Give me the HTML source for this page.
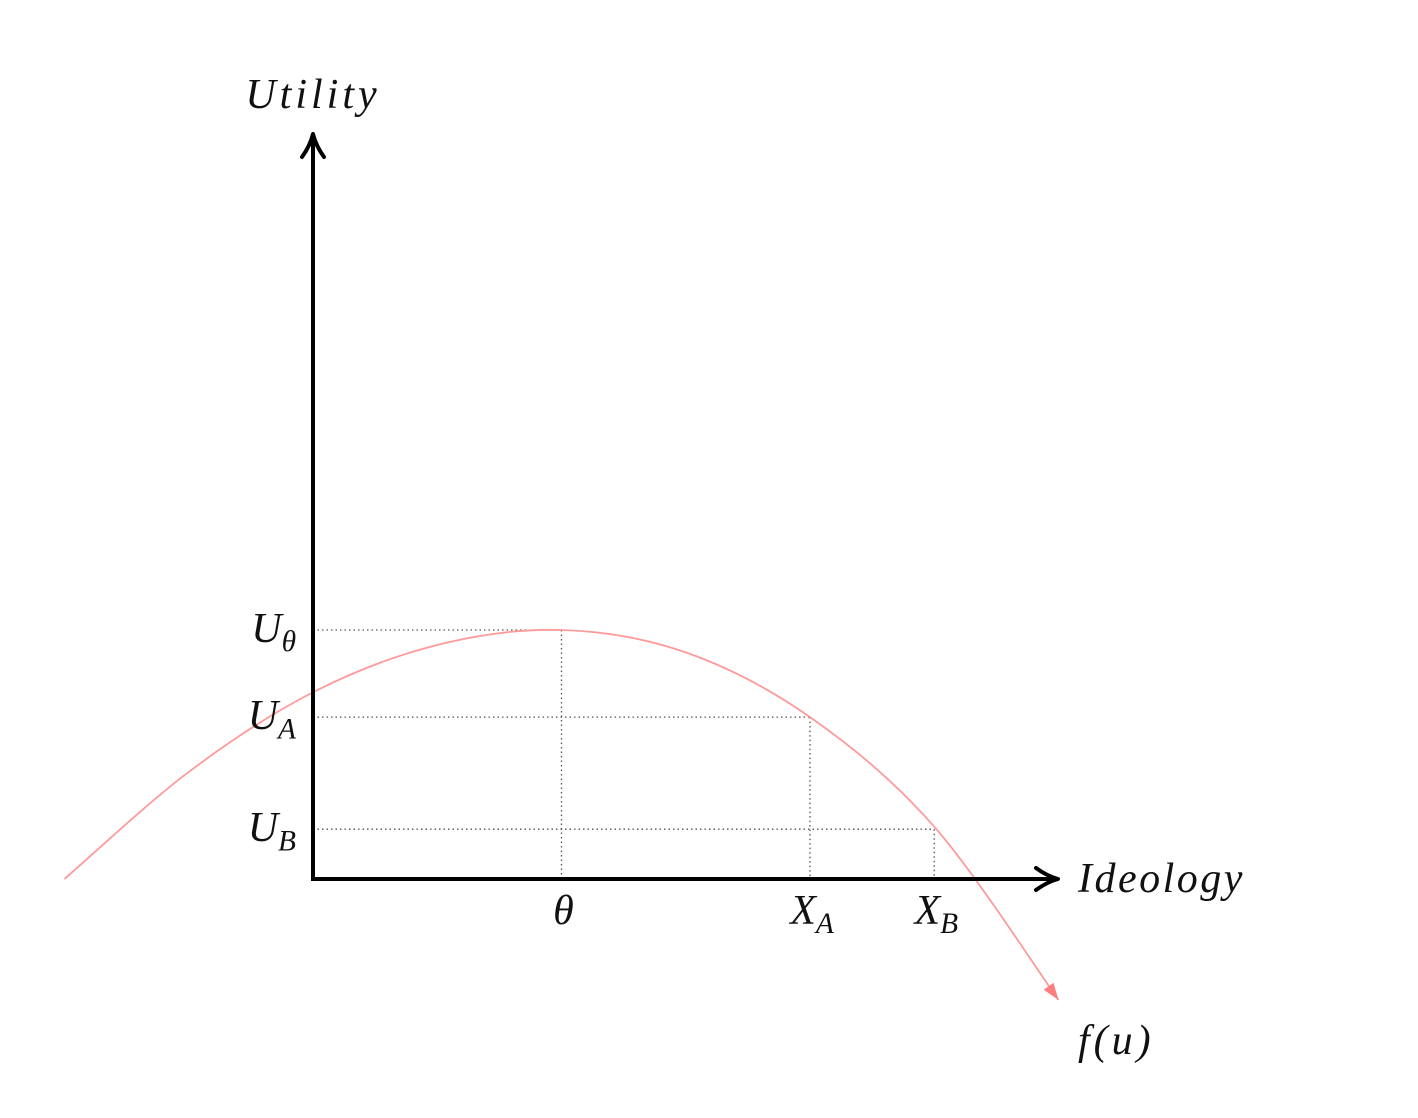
<!DOCTYPE html>
<html><head><meta charset="utf-8"><style>
html,body{margin:0;padding:0;background:#fff;}
svg{display:block;}
text{font-family:"Liberation Serif",serif;font-style:italic;fill:#111;}
</style></head><body>
<svg id="chart" width="1418" height="1118" viewBox="0 0 1418 1118" xmlns="http://www.w3.org/2000/svg">
<g id="layer"></g>
</svg>
<script>
// data
const tickNames = ["theta", "x-a", "x-b"];
const tickValues = [1, 2, 2.5];
const utilNames = ["u-theta", "u-a", "u-b"];
const utilValues = [1, 0.65, 0.2];
const curveX = [-1, -0.5, 0, 0.5, 1, 1.5, 2, 2.5, 3];
const curveU = [0, 0.43, 0.75, 0.94, 1, 0.91, 0.65, 0.21, -0.486];

const X0 = 313, Y0 = 879, SX = 248.5, SY = 249;
const xs = v => X0 + v * SX;
const ys = u => Y0 - u * SY;
const NS = "http://www.w3.org/2000/svg";
const g = document.getElementById('layer');
function mk(tag, attrs) {
  const e = document.createElementNS(NS, tag);
  for (const k in attrs) e.setAttribute(k, attrs[k]);
  g.appendChild(e);
  return e;
}
// guide lines
utilValues.forEach((u, i) => {
  const xe = xs(tickValues[i]);
  const l = mk('line', {x1: X0, y1: ys(u), x2: xe, y2: ys(u), stroke: '#555', 'stroke-width': 1.3, 'stroke-dasharray': '1.5 3'});
  
  
  const v = mk('line', {x1: xe, y1: ys(u), x2: xe, y2: Y0, stroke: '#555', 'stroke-width': 1.3, 'stroke-dasharray': '1.5 3'});
  
  
});
// curve (Catmull-Rom)
const pts = curveX.map((x, i) => [xs(x), ys(curveU[i])]);
let d = 'M' + pts[0][0] + ',' + pts[0][1];
for (let i = 0; i < pts.length - 1; i++) {
  const p0 = pts[i - 1] || pts[i], p1 = pts[i], p2 = pts[i + 1], p3 = pts[i + 2] || p2;
  const c1 = [p1[0] + (p2[0] - p0[0]) / 6, p1[1] + (p2[1] - p0[1]) / 6];
  const c2 = [p2[0] - (p3[0] - p1[0]) / 6, p2[1] - (p3[1] - p1[1]) / 6];
  d += ` C${c1[0]},${c1[1]} ${c2[0]},${c2[1]} ${p2[0]},${p2[1]}`;
}
const curve = mk('path', {d: d, fill: 'none', stroke: '#ff9a9a', 'stroke-width': 1.8});


// curve arrowhead
const pe = pts[pts.length - 1], pp = pts[pts.length - 2];
const ang = Math.atan2(pe[1] - pp[1], pe[0] - pp[0]);
const ah = mk('path', {d: 'M0,0 L-17,-6 L-17,6 Z', fill: '#ff7f7f', transform: `translate(${pe[0]},${pe[1]}) rotate(${ang * 180 / Math.PI})`});


// axes
const ya = mk('line', {x1: X0, y1: Y0 + 2, x2: X0, y2: 140, stroke: '#000', 'stroke-width': 4});


const yah = mk('path', {d: `M${X0-11},${157} Q${X0-3},${146} ${X0},${134} Q${X0+3},${146} ${X0+11},${157}`, fill: 'none', stroke: '#000', 'stroke-width': 4, 'stroke-linecap': 'round', 'stroke-linejoin': 'round'});


const xa = mk('line', {x1: X0 - 2, y1: Y0, x2: 1052, y2: Y0, stroke: '#000', 'stroke-width': 4});


const xah = mk('path', {d: `M1036,${Y0-11} Q1047,${Y0-3} 1058,${Y0} Q1047,${Y0+3} 1036,${Y0+11}`, fill: 'none', stroke: '#000', 'stroke-width': 4, 'stroke-linecap': 'round', 'stroke-linejoin': 'round'});


function label(txt, sub, x, y, size, anchor, name, ls) {
  const t = mk('text', {x: x, y: y, 'font-size': size, 'text-anchor': anchor});
  if (ls) t.setAttribute('letter-spacing', ls);
  t.textContent = txt;
  if (sub) {
    const s = document.createElementNS(NS, 'tspan');
    s.setAttribute('font-size', size * 0.7);
    s.setAttribute('dy', size * 0.22);
    s.textContent = sub;
    t.appendChild(s);
  }
  
  
}
label('Utility', null, 313, 108, 42, 'middle', 'y-axis-title', 4);
label('Ideology', null, 1078, 892, 42, 'start', 'x-axis-title', 2.5);
label('f(u)', null, 1078, 1054, 42, 'start', 'curve-label', 4);
const tickText = [['θ', null], ['X', 'A'], ['X', 'B']];
tickValues.forEach((v, i) => label(tickText[i][0], tickText[i][1], xs(v) + 2, 924, 42, 'middle', tickNames[i] + '-label'));
const utilText = [['U', 'θ'], ['U', 'A'], ['U', 'B']];
utilValues.forEach((u, i) => label(utilText[i][0], utilText[i][1], 296, ys(u) + 12, 42, 'end', utilNames[i] + '-label'));
</script>
</body></html>
